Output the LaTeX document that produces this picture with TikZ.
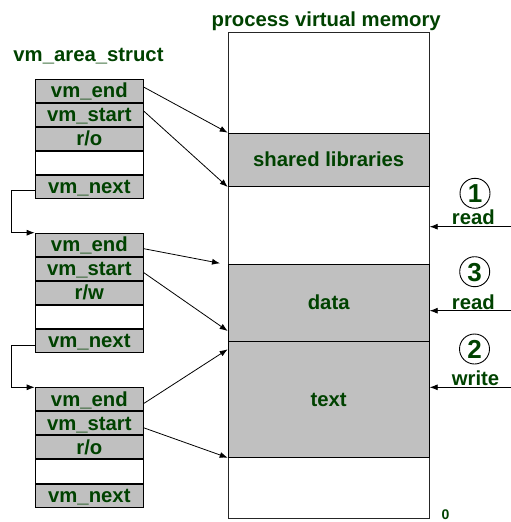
\documentclass[tikz,border=0pt]{standalone}
\usepackage{fontspec}
\setmainfont{Liberation Sans}
\usetikzlibrary{arrows.meta,calc}
\definecolor{txt}{RGB}{0,66,0}
\definecolor{gfill}{RGB}{192,192,192}
\newcommand\mylbl{\fontsize{20.3}{24}\selectfont\bfseries}
\newcommand\mynum{\fontsize{26}{30}\selectfont\bfseries}
\newcommand\mysmall{\fontsize{14}{16}\selectfont\bfseries}
\begin{document}
\begin{tikzpicture}[x=1pt,y=-1pt,line width=1pt,
  >={Latex[length=8pt,width=6pt]},
  rowbox/.style={draw=black, fill=gfill, minimum width=108.3pt, minimum height=23.06pt,
    inner sep=0pt, text height=14pt, text depth=0pt, font=\mylbl, text=txt, anchor=north west},
  emptyrow/.style={rowbox, fill=white},
  region/.style={draw=black, fill=gfill, minimum width=201pt, inner sep=0pt,
    text height=14pt, text depth=0pt, font=\mylbl, text=txt, anchor=north west},
  titletext/.style={font=\mylbl, text=txt, anchor=base, inner sep=0pt},
  numc/.style={circle, draw=black, line width=0.9pt, minimum size=30pt, inner sep=0pt,
    font=\mynum, text=txt, text height=18.6pt, text depth=0pt},
  conn/.style={->, line width=0.8pt}
]
\useasboundingbox (0,0) rectangle (511,522);

% titles
\node[titletext] (tstruct) at (88.5,61.7) {vm\_area\_struct};
\node[titletext] (tmem) at (326.2,26) {process virtual memory};

% memory
\node[draw=black!85, minimum width=201pt, minimum height=486pt, inner sep=0pt, anchor=north west] (mem) at (227.7,32.3) {};
\node[region, minimum height=53.3pt] (shared) at (227.7,132.7) {shared libraries};
\node[region, minimum height=77.3pt] (data) at (227.7,263.7) {data};
\node[region, minimum height=115.7pt] (text) at (227.7,341) {text};

% struct 1
\node[rowbox] (s1end) at (34.7,78.7) {vm\_end};
\node[rowbox] (s1start) at (s1end.south west) {vm\_start};
\node[rowbox] (s1perm) at (s1start.south west) {r/o};
\node[emptyrow] (s1blank) at (s1perm.south west) {};
\node[rowbox] (s1next) at (s1blank.south west) {vm\_next};

% struct 2
\node[rowbox] (s2end) at (34.7,232.7) {vm\_end};
\node[rowbox] (s2start) at (s2end.south west) {vm\_start};
\node[rowbox] (s2perm) at (s2start.south west) {r/w};
\node[emptyrow] (s2blank) at (s2perm.south west) {};
\node[rowbox] (s2next) at (s2blank.south west) {vm\_next};

% struct 3
\node[rowbox] (s3end) at (34.7,387.3) {vm\_end};
\node[rowbox] (s3start) at (s3end.south west) {vm\_start};
\node[rowbox] (s3perm) at (s3start.south west) {r/o};
\node[emptyrow] (s3blank) at (s3perm.south west) {};
\node[rowbox] (s3next) at (s3blank.south west) {vm\_next};

% list links
\draw[conn] ([yshift=-3.5pt]s1next.west) -- ++(-23.4,0) |- (s2end.north west);
\draw[conn] ([yshift=-4pt]s2next.west) -- ++(-23.4,0) |- (s3end.north west);

% area pointers
\coordinate (d1) at (220,263.3);
\coordinate (d2) at (227.7,331);
\coordinate (x1) at (227.7,349.3);
\draw[conn] ([yshift=3.5pt]s1end.east) -- (shared.north west);
\draw[conn] ([yshift=3.5pt]s1start.east) -- (shared.south west);
\draw[conn] ([yshift=-4pt]s2end.east) -- (d1);
\draw[conn] ([yshift=-4pt]s2start.east) -- (d2);
\draw[conn] ([yshift=-4pt]s3end.east) -- (x1);
\draw[conn] ([yshift=-4.5pt]s3start.east) -- (text.south west);

% accesses
\node[numc] (c1) at (475,193.3) {1};
\node[titletext] (l1) at (473.3,224) {read};
\coordinate (r1) at (511,226.7);
\draw[conn] (r1) -- (r1 -| mem.east);

\node[numc] (c3) at (474.7,271.7) {3};
\node[titletext] (l3) at (473.3,309) {read};
\coordinate (r3) at (511,310.7);
\draw[conn] (r3) -- (r3 -| mem.east);

\node[numc] (c2) at (474.5,349) {2};
\node[titletext] (l2) at (475.5,385.7) {write};
\coordinate (r2) at (511,387.3);
\draw[conn] (r2) -- (r2 -| mem.east);

\node[font=\mysmall, text=txt, anchor=base, inner sep=0pt] (zero) at (445.5,519.5) {0};
\end{tikzpicture}
\end{document}
